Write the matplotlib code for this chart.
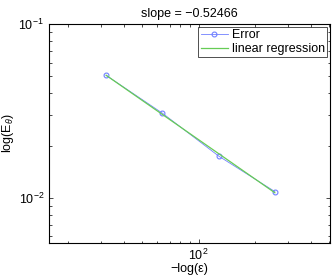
import matplotlib.pyplot as plt
import numpy as np

plt.rcParams['font.family'] = ['Liberation Sans', 'DejaVu Sans']
plt.rcParams['mathtext.fontset'] = 'custom'
plt.rcParams['mathtext.rm'] = 'Liberation Sans'
plt.rcParams['mathtext.it'] = 'Liberation Sans:italic'

# 数据
eps_inv = np.array([32, 64, 128, 256])
err = np.array([0.0507, 0.0307, 0.01740, 0.01086])
slope_text = 'slope = \u22120.52466'

# 线性回归 (log-log)
p = np.polyfit(np.log10(eps_inv), np.log10(err), 1)
fit = 10 ** np.polyval(p, np.log10(eps_inv))

fig = plt.figure(figsize=(3.35, 2.77), dpi=100)
ax = fig.add_axes([0.146, 0.123, 0.839, 0.790])

ax.loglog(eps_inv, err, '-o', color='#7080ff', lw=0.6, ms=3.5,
          mfc='none', mew=0.8, label='Error')
ax.loglog(eps_inv, fit, '-', color='#66cc55', lw=0.9, label='linear regression')

ax.set_xlim(15.8, 505)
ax.set_ylim(0.0055, 0.1)
ax.set_title(slope_text, fontsize=9, pad=5)
ax.set_xlabel('\u2212log(\u03b5)', fontsize=9, labelpad=0)
ax.set_ylabel(r'log(E$_\theta$)', fontsize=9, labelpad=2)

ax.tick_params(which='both', direction='in', top=True, right=True, labelsize=9)
ax.tick_params(which='major', length=3, width=0.5)
ax.tick_params(which='minor', length=1.8, width=0.5)
for s in ax.spines.values():
    s.set_linewidth(0.8)

leg = ax.legend(loc='upper right', fontsize=9, frameon=True, fancybox=False,
                borderaxespad=0.2, borderpad=0.2, handlelength=2.2,
                handletextpad=0.3, labelspacing=0.15)
leg.get_frame().set_edgecolor('black')
leg.get_frame().set_linewidth(0.6)

plt.savefig('out.png', dpi=100)
